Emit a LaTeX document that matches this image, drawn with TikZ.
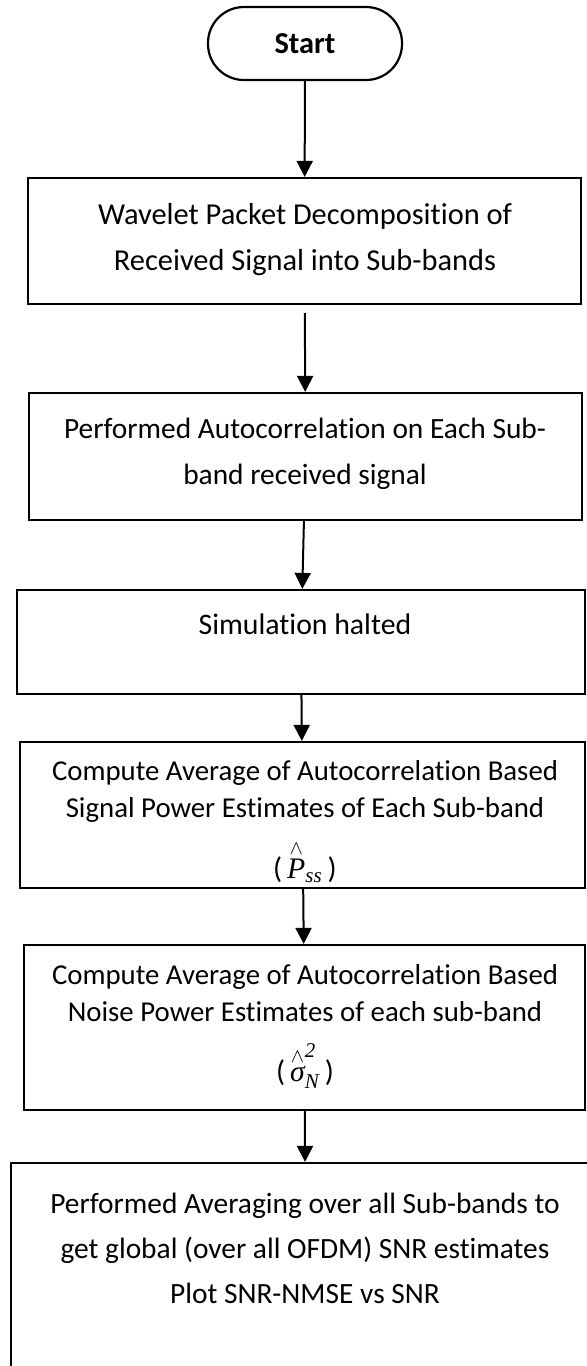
\documentclass[tikz,border=0pt]{standalone}
\usepackage{fontspec}
\setmainfont[Ligatures=NoCommon]{Carlito}
\newfontfamily\tnr{Liberation Serif}
\usetikzlibrary{arrows.meta}
% hat drawn as a small wedge standing above a letter
\newcommand\wedgehat[1]{\stackrel{\wedge}{\hbox{#1}}}
\newcommand\subfont{\tnr\itshape\fontsize{10.5}{10.5}\selectfont}
\begin{document}
\begin{tikzpicture}[x=0.5pt,y=-0.5pt,
  box/.style={draw, line width=1.1pt, inner sep=0pt},
  lbl/.style={align=center, inner sep=0pt, font=\fontsize{14.9}{23}\selectfont},
  tight/.style={font=\fontsize{14.4}{18.5}\selectfont},
  flow/.style={-{Triangle[length=8pt,width=8pt]}, line width=1pt}]
\clip (0,0) rectangle (587,1366);
\fill[white] (0,0) rectangle (587,1366);

% boxes
\node[box, rounded corners=18pt, minimum width=97pt, minimum height=36.5pt] (start) at (305,43.5) {};
\node[box, minimum width=276.5pt, minimum height=63pt] (b1) at (304.5,241) {};
\node[box, minimum width=276.5pt, minimum height=63.5pt] (b2) at (305.5,456.5) {};
\node[box, minimum width=284pt, minimum height=52pt] (b3) at (301,642) {};
\node[box, minimum width=282.5pt, minimum height=73pt] (b4) at (302.5,815) {};
\node[box, minimum width=280.5pt, minimum height=82.5pt] (b5) at (304.5,1027.5) {};
\node[box, minimum width=294.5pt, minimum height=108.5pt] (b6) at (305.5,1271.5) {};

% texts
\node[lbl, font=\fontsize{15.2}{23}\selectfont\bfseries] (tstart) at (305,43.5) {Start};
\node[lbl, font=\fontsize{15.2}{23}\selectfont] (t1) at (305,240) {Wavelet Packet Decomposition of\\Received Signal into Sub-bands};
\node[lbl, font=\fontsize{14.7}{23}\selectfont] (t2) at (305,453.5) {Performed Autocorrelation on Each Sub-\\band received signal};
\node[lbl] (t3) at (305,624) {Simulation halted};
\node[lbl, tight] (t4) at (305,791.5) {Compute Average of Autocorrelation Based\\Signal Power Estimates of Each Sub-band};
\node[lbl] (m4) at (305,862) {(\,$\wedgehat{\tnr\itshape P}_{\hbox{\subfont ss}}$\,)};
\node[lbl, tight] (t5) at (305,993.5) {Compute Average of Autocorrelation Based\\Noise Power Estimates of each sub-band};
\node[lbl] (m5) at (305,1066) {(\,$\wedgehat{\tnr\itshape σ}^{\hbox{\subfont 2}}_{\hbox{\subfont N}}$\,)};
\node[lbl, font=\fontsize{14.7}{22.5}\selectfont] (t6) at (305,1248) {Performed Averaging over all Sub-bands to\\get global (over all OFDM) SNR estimates\\Plot SNR-NMSE vs SNR};

% connectors
\draw[flow] (start) -- (b1);
\draw[flow, shorten <=4pt] (b1) -- (b2);
\draw[flow] (b2) -- (b3);
\draw[flow] (b3) -- (b4);
\draw[flow] (b4) -- (b5);
\draw[flow] (b5) -- (b6);
\end{tikzpicture}
\end{document}
